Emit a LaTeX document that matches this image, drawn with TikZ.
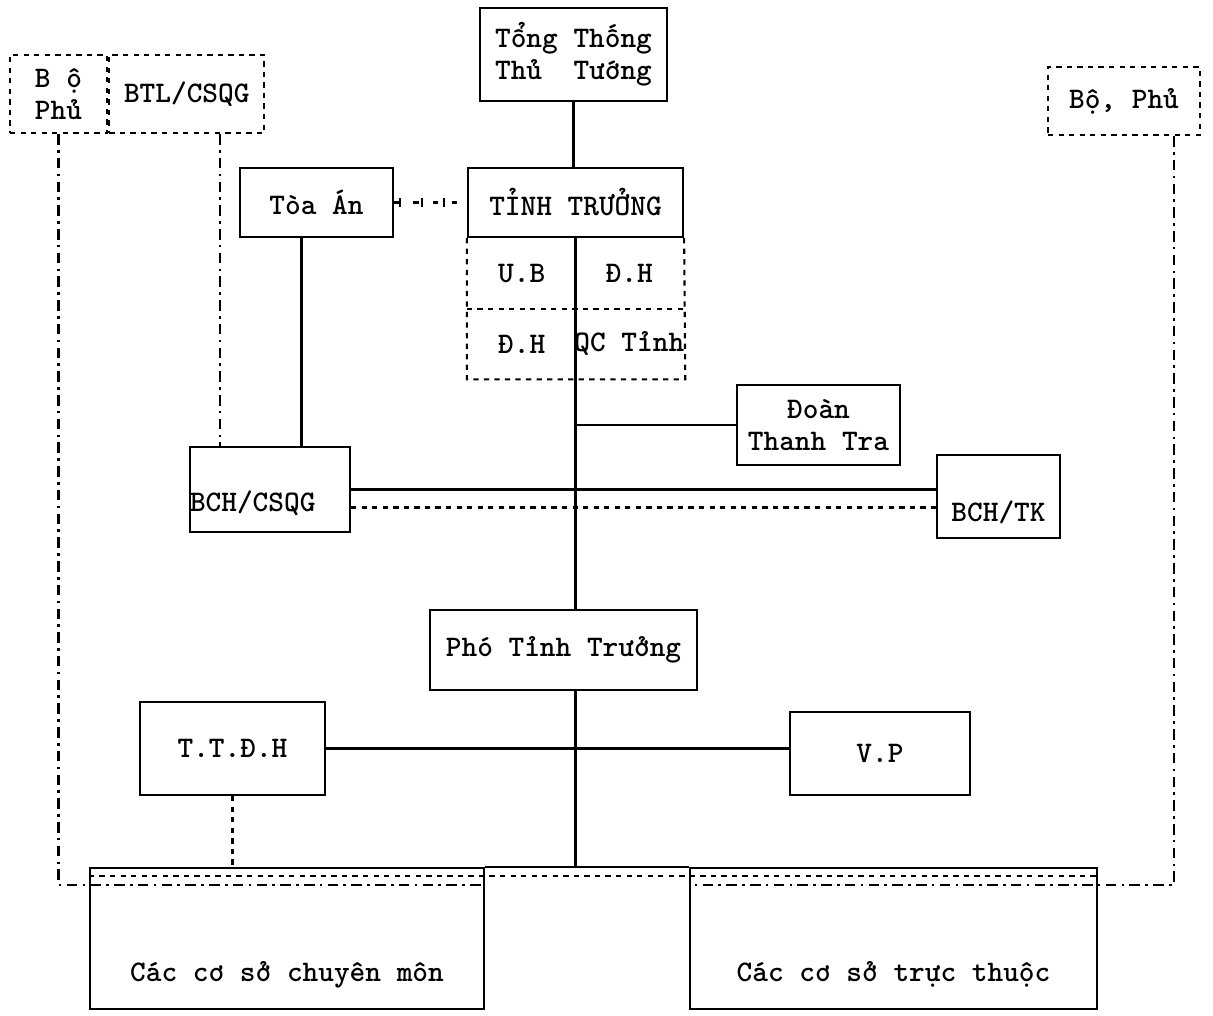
\documentclass[tikz,border=0pt]{standalone}
\usepackage{fontspec}
\usetikzlibrary{positioning}
\usetikzlibrary{decorations.markings}

\tikzset{
	box/.style={draw, line width=1.3pt, inner sep=0pt, align=center},
	dbox/.style={box, dashed},
	cell/.style={inner sep=0pt, minimum width=2.15cm, minimum height=1.37cm},
	dashdot/.style={line width=1.3pt, dash pattern=on 6pt off 3pt on 1.5pt off 3pt},
	crossline/.style={dash pattern=on 3pt off 8pt, postaction={decorate, decoration={markings, mark=between positions 0.08 and 0.95 step 0.3 with {\draw[solid] (0,-2.5pt) -- (0,2.5pt);}}}}
}

\begin{document}
\begin{tikzpicture}[x=0.02cm, y=-0.02cm, line width=1.2pt, font=\ttfamily\bfseries\fontsize{17}{18}\selectfont]
	\useasboundingbox (0,0) rectangle (1213,1016);
	
	\node [box, minimum width=3.74cm, minimum height=1.86cm] at (573.5,54.5) (1TongThong) {Tổng Thống\\Thủ~~Tướng};
	\node [dbox, minimum width=1.94cm, minimum height=1.56cm] at (58.5,94) (1BoPhu) {B ộ\\Phủ}; \node [dbox, minimum width=3.1cm, minimum height=1.56cm, right=0pt of 1BoPhu] (1BTL) {BTL/CSQG};
	\node [dbox, minimum width=3.04cm, minimum height=1.36cm] at (1124,101) (1BoPhuR) {Bộ, Phủ};
	
	\node [box, minimum width=4.3cm, minimum height=1.38cm] at (575.5,202.5) (2TinhTruong) {TỈNH TRƯỞNG}; \node [box, minimum width=3.06cm, minimum height=1.38cm] at (316.5,202.5) (2ToaAn) {Tòa Án};
	
	\node [cell, anchor=north west] at (2TinhTruong.south west) (3UB) {U.B}; \node [cell, anchor=north east] at (2TinhTruong.south east) (3DH) {Đ.H};
	\node [cell, below=0pt of 3UB] (3DHb) {Đ.H}; \node [cell, below=0pt of 3DH] (3QC) {QC Tỉnh};
	
	\node [box, minimum width=3.26cm, minimum height=1.6cm] at (818.5,425) (4DoanTT) {Đoàn\\Thanh Tra};
	\node [box, minimum width=3.2cm, minimum height=1.7cm, text width=3.2cm, align=left, text height=0.98cm, text depth=0.1cm] at (270,489.5) (4BCHCSQG) {BCH/CSQG};
	\node [box, minimum width=2.46cm, minimum height=1.66cm, text height=1.1cm, text depth=0.1cm] at (998.5,496.5) (4BCHTK) {BCH/TK};
	
	\node [box, minimum width=5.34cm, minimum height=1.6cm] at (563.5,650) (5PhoTinh) {Phó Tỉnh Trưởng};
	
	\node [box, minimum width=3.7cm, minimum height=1.86cm] at (232.5,748.5) (6TTDH) {T.T.Đ.H}; \node [box, minimum width=3.6cm, minimum height=1.66cm] at (880,753.5) (6VP) {V.P};
	
	\node [box, minimum width=7.88cm, minimum height=2.82cm, text height=1.82cm, text depth=0.1cm] at (287,938.5) (7ChuyenMon) {Các cơ sở chuyên môn};
	\node [box, minimum width=8.14cm, minimum height=2.82cm, text height=1.82cm, text depth=0.1cm] at (893.5,938.5) (7TrucThuoc) {Các cơ sở trực thuộc};
	
	\draw (1TongThong.south) -- (1TongThong.south |- 2TinhTruong.north); \draw [crossline] (2ToaAn) -- (2TinhTruong);
	\draw [dashed] (3UB.north west) -- (3DHb.south west) -- (3QC.south east) -- (3DH.north east); \draw [dashed] (3UB.south west) -- (3QC.north east);
	\draw (2TinhTruong.south) -- (2TinhTruong.south |- 5PhoTinh.north); \draw (2TinhTruong.south |- 4DoanTT.west) -- (4DoanTT.west);
	\draw (5PhoTinh.south -| 2TinhTruong.south) -- (2TinhTruong.south |- 7ChuyenMon.north); \draw (7ChuyenMon.north east) -- (7TrucThuoc.north west);
	\draw ([xshift=-0.3cm]2ToaAn.south) -- ([xshift=-0.3cm]2ToaAn.south |- 4BCHCSQG.north); \draw [dashdot] ([xshift=0.67cm]1BTL.south) -- ([xshift=0.67cm]1BTL.south |- 4BCHCSQG.north);
	\draw (4BCHCSQG.east) -- (4BCHCSQG.east -| 4BCHTK.west); \draw [dashed] ([yshift=-0.36cm]4BCHCSQG.east) -- ([yshift=-0.36cm]4BCHCSQG.east -| 4BCHTK.west);
	\draw (6TTDH.east) -- (6TTDH.east -| 6VP.west); \draw [dashed] (6TTDH.south) -- (6TTDH.south |- 7ChuyenMon.north);
	\draw [dashed] ([yshift=-0.18cm]7ChuyenMon.north west) -- ([yshift=-0.18cm]7TrucThuoc.north east);
	\draw [dashdot] (1BoPhu.south) |- ([yshift=-0.36cm]7ChuyenMon.north east); \draw [dashdot] ([xshift=1cm]1BoPhuR.south) |- ([yshift=-0.36cm]7TrucThuoc.north west);
	
\end{tikzpicture}
\end{document}
